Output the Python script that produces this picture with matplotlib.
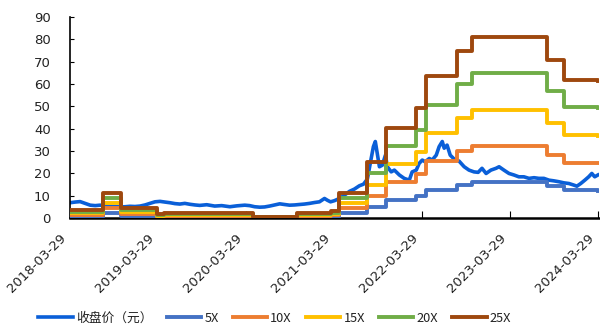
import pandas as pd
import matplotlib.pyplot as plt

# closing price (date, yuan)
close_dates = [
    '2018-03-29', '2018-04-19', '2018-05-09', '2018-05-30', '2018-06-20', '2018-07-11',
    '2018-07-31', '2018-08-21', '2018-09-11', '2018-10-01', '2018-10-22', '2018-11-12',
    '2018-12-02', '2018-12-23', '2019-01-13', '2019-02-03', '2019-02-23', '2019-03-16',
    '2019-04-06', '2019-04-26', '2019-05-17', '2019-06-07', '2019-06-27', '2019-07-18',
    '2019-08-08', '2019-08-29', '2019-09-18', '2019-10-17', '2019-11-19', '2019-12-18',
    '2020-01-21', '2020-02-19', '2020-03-23', '2020-04-12', '2020-05-03', '2020-05-24',
    '2020-06-13', '2020-07-04', '2020-07-25', '2020-08-15', '2020-09-04', '2020-09-25',
    '2020-10-16', '2020-11-05', '2020-11-26', '2020-12-17', '2021-01-07', '2021-01-27',
    '2021-02-17', '2021-03-01', '2021-03-14', '2021-03-30', '2021-04-20', '2021-05-11',
    '2021-06-01', '2021-06-21', '2021-07-12', '2021-07-29', '2021-08-14', '2021-08-26',
    '2021-09-08', '2021-09-16', '2021-09-24', '2021-10-03', '2021-10-15', '2021-10-28',
    '2021-11-05', '2021-11-21', '2021-12-04', '2021-12-25', '2022-01-14', '2022-02-04',
    '2022-02-16', '2022-03-05', '2022-03-17', '2022-03-30', '2022-04-11', '2022-04-28',
    '2022-05-10', '2022-05-27', '2022-06-08', '2022-06-21', '2022-06-29', '2022-07-11',
    '2022-07-24', '2022-08-09', '2022-08-30', '2022-09-20', '2022-10-10', '2022-10-31',
    '2022-11-17', '2022-12-03', '2022-12-20', '2023-01-09', '2023-01-30', '2023-02-12',
    '2023-03-04', '2023-03-25', '2023-04-15', '2023-05-05', '2023-05-26', '2023-06-16',
    '2023-07-07', '2023-07-27', '2023-08-17', '2023-09-07', '2023-09-27', '2023-10-18',
    '2023-11-08', '2023-11-29', '2023-12-19', '2024-01-01', '2024-01-17', '2024-02-03',
    '2024-02-19', '2024-03-03', '2024-03-15', '2024-03-28',
]
close = [
    6.9, 7.2, 7.4, 6.6, 5.8, 5.6,
    5.8, 5.5, 5.3, 5.2, 5.0, 5.1,
    5.3, 5.2, 5.4, 5.9, 6.6, 7.3,
    7.5, 7.2, 6.9, 6.5, 6.3, 6.6,
    6.2, 5.9, 5.7, 6.0, 5.4, 5.6,
    5.1, 5.5, 5.8, 5.6, 5.1, 4.9,
    5.0, 5.4, 5.9, 6.4, 6.1, 5.8,
    5.9, 6.1, 6.3, 6.6, 7.0, 7.3,
    8.8, 8.0, 7.3, 7.8, 8.8, 10.3,
    12.0, 13.0, 14.5, 15.2, 17.5, 24.5,
    32.0, 34.3, 29.0, 23.0, 23.7, 28.2,
    23.0, 20.7, 21.5, 19.3, 17.8, 17.0,
    20.7, 21.5, 24.5, 26.0, 25.2, 26.7,
    26.0, 28.2, 32.0, 34.3, 31.3, 32.7,
    28.2, 26.5, 25.5, 23.0, 21.5, 20.7,
    20.5, 22.3, 20.0, 21.5, 22.3, 23.0,
    21.5, 20.0, 19.3, 18.5, 18.5, 17.8,
    18.1, 17.8, 17.8, 17.0, 16.7, 16.3,
    15.8, 15.5, 14.8, 14.3, 15.5, 17.0,
    18.5, 20.0, 18.5, 19.3,
]

# earnings per share behind the PE bands (step changes)
eps_dates = ['2018-03-29', '2018-08-13', '2018-10-26', '2019-03-24', '2019-04-22',
             '2020-04-25', '2020-10-24', '2021-03-14', '2021-04-20', '2021-08-14',
             '2021-11-01', '2022-03-05', '2022-04-15', '2022-08-22', '2022-10-23',
             '2023-08-29', '2023-11-08', '2024-03-29']
eps = [0.14, 0.45, 0.19, 0.07, 0.10, 0.024, 0.085, 0.12, 0.45, 1.0,
       1.62, 1.98, 2.54, 3.0, 3.24, 2.84, 2.48, 2.46]

multiples = [5, 10, 15, 20, 25]
band_labels = ['5X', '10X', '15X', '20X', '25X']
band_colors = ['#4472C4', '#ED7D31', '#FFC000', '#70AD47', '#9E480E']
tick_labels = ['2018-03-29', '2019-03-29', '2020-03-29', '2021-03-29',
               '2022-03-29', '2023-03-29', '2024-03-29']

close_x = pd.to_datetime(close_dates)
eps_x = pd.to_datetime(eps_dates)

fig = plt.figure(figsize=(6, 3.29), dpi=100)
ax = fig.add_axes([0.117, 0.337, 0.881, 0.611])

ax.plot(close_x, close, color='#0A5FD8', lw=2.6, label='收盘价（元）', zorder=2)
for m, lab, c in zip(multiples, band_labels, band_colors):
    ax.plot(eps_x, [e * m for e in eps], color=c, lw=2.8, drawstyle='steps-post',
            label=lab, zorder=3)

ax.set_ylim(0, 90)
ax.set_yticks(range(0, 91, 10))
ax.set_xlim(pd.Timestamp('2018-03-29'), pd.Timestamp('2024-04-01'))
ax.set_xticks(pd.to_datetime(tick_labels))
ax.set_xticklabels([])
# rotated date labels, ending just left of each tick
for lab in tick_labels:
    ax.annotate(lab, xy=(pd.Timestamp(lab), 0), xycoords=('data', 'axes fraction'),
                xytext=(-2.5, -15), textcoords='offset points', rotation=45,
                ha='right', va='baseline', rotation_mode='anchor', fontsize=9.5,
                color='#222222')

for s in ['top', 'right']:
    ax.spines[s].set_visible(False)
ax.spines['left'].set_linewidth(1.2)
ax.spines['bottom'].set_linewidth(1.8)
ax.tick_params(axis='y', direction='in', length=3, pad=14, labelsize=9.5, colors='#222222')
ax.tick_params(axis='x', direction='in', length=5)
ax.tick_params(axis='both', color='black')

leg = fig.legend(loc='center', bbox_to_anchor=(0.458, 0.032), ncol=6, frameon=False,
                 handlelength=2.7, handletextpad=0.25, columnspacing=1.1,
                 prop={'family': ['Liberation Sans Narrow', 'Noto Sans CJK SC', 'DejaVu Sans'],
                       'size': 9.2})
for t in leg.get_texts():
    t.set_color('#222222')

fig.savefig('out.png', dpi=100)
